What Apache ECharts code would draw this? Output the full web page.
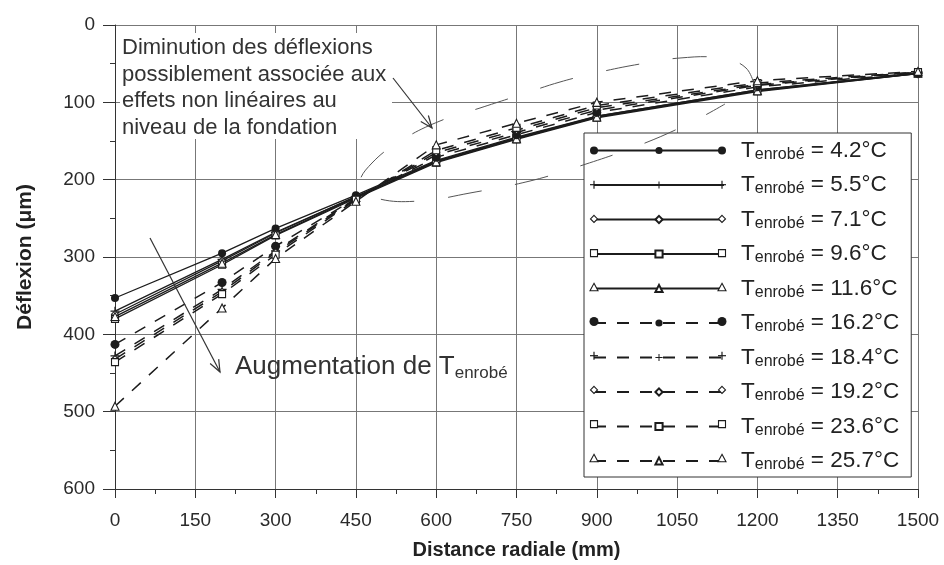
<!DOCTYPE html>
<html>
<head>
<meta charset="utf-8">
<script src="https://cdn.jsdelivr.net/npm/echarts@6/dist/echarts.min.js"></script>
<style>
html,body{margin:0;padding:0;background:#fff;}
#chart{width:944px;height:565px;}
</style>
</head>
<body>
<div id="chart"></div>
<script>
// ---- data ----
const distances = [0, 200, 300, 450, 600, 750, 900, 1200, 1500];
const temps = ['4.2', '5.5', '7.1', '9.6', '11.6', '16.2', '18.4', '19.2', '23.6', '25.7'];
const t4_2  = [353, 295, 263, 220, 175, 145, 118, 84, 63];
const t5_5  = [370, 303, 268, 222, 177, 147, 119, 85, 63];
const t7_1  = [374, 305, 269, 222, 176, 146, 118, 84, 62];
const t9_6  = [380, 310, 272, 224, 178, 148, 120, 86, 63];
const t11_6 = [377, 308, 271, 223, 177, 147, 119, 85, 62];
const t16_2 = [413, 333, 286, 224, 171, 142, 113, 80, 62];
const t18_4 = [428, 342, 292, 224, 168, 139, 110, 78, 61];
const t19_2 = [432, 345, 294, 225, 165, 136, 107, 77, 61];
const t23_6 = [436, 348, 297, 226, 162, 133, 104, 75, 61];
const t25_7 = [493, 366, 302, 228, 155, 127, 100, 72, 60];
const seriesValues = [t4_2, t5_5, t7_1, t9_6, t11_6, t16_2, t18_4, t19_2, t23_6, t25_7];
const yTicks = [0, 100, 200, 300, 400, 500, 600];
const xTicks = [0, 150, 300, 450, 600, 750, 900, 1050, 1200, 1350, 1500];

// ---- styles ----
const INK = '#1c1c1c';
const FONT = '"Liberation Sans", Arial, sans-serif';
const PLUS = 'path://M0,4.3H10V5.7H0Z M4.3,0H5.7V10H4.3Z';
const markerDefs = [
  {symbol: 'circle', kind: 'circle', size: 8, filled: true},
  {symbol: PLUS, kind: 'plus', size: 9, filled: true},
  {symbol: 'diamond', kind: 'diamond', size: 7, filled: false},
  {symbol: 'rect', kind: 'rect', size: 7, filled: false},
  {symbol: 'triangle', kind: 'triangle', size: 8, filled: false}
];

const series = seriesValues.map(function (vals, i) {
  const m = markerDefs[i % 5];
  const dashed = i >= 5;
  return {
    name: temps[i],
    type: 'line',
    data: distances.map(function (d, k) { return [d, vals[k]]; }),
    symbol: m.symbol,
    symbolSize: (i === 5 ? m.size + 1 : m.size),
    showSymbol: true,
    lineStyle: {color: INK, width: dashed ? 1.5 : 1.3, type: dashed ? [12, 11] : 'solid'},
    itemStyle: {color: m.filled ? INK : '#fff', borderColor: INK, borderWidth: m.filled ? 0 : 1.1},
    emphasis: {disabled: true},
    animation: false,
    z: 3
  };
});

function arrow(x1, y1, x2, y2) {
  const a = Math.atan2(y2 - y1, x2 - x1), L = 13, w = 0.38;
  return [
    {type: 'line', z: 120, shape: {x1: x1, y1: y1, x2: x2, y2: y2}, style: {stroke: '#333', lineWidth: 1.2}},
    {type: 'polyline', z: 120, shape: {points: [
      [x2 - L * Math.cos(a - w), y2 - L * Math.sin(a - w)], [x2, y2],
      [x2 - L * Math.cos(a + w), y2 - L * Math.sin(a + w)]]},
      style: {stroke: '#333', lineWidth: 1.2, fill: null}}
  ];
}

// extra end-markers of the legend samples (legend draws the middle one)
function legendMarker(kind, filled, cx, cy, big) {
  const st = {fill: filled ? INK : '#fff', stroke: INK, lineWidth: filled ? 0 : 1.1};
  const z = 130;
  if (kind === 'circle') return [{type: 'circle', z: z, shape: {cx: cx, cy: cy, r: big ? 4.5 : 4}, style: st}];
  if (kind === 'plus') return [
    {type: 'line', z: z, shape: {x1: cx - 4, y1: cy, x2: cx + 4, y2: cy}, style: {stroke: INK, lineWidth: 1.2}},
    {type: 'line', z: z, shape: {x1: cx, y1: cy - 4, x2: cx, y2: cy + 4}, style: {stroke: INK, lineWidth: 1.2}}];
  if (kind === 'diamond') return [{type: 'polygon', z: z, shape: {points: [[cx, cy - 3.5], [cx + 3.5, cy], [cx, cy + 3.5], [cx - 3.5, cy]]}, style: st}];
  if (kind === 'rect') return [{type: 'rect', z: z, shape: {x: cx - 3.5, y: cy - 3.5, width: 7, height: 7}, style: st}];
  return [{type: 'polygon', z: z, shape: {points: [[cx, cy - 4], [cx + 4, cy + 3.5], [cx - 4, cy + 3.5]]}, style: st}];
}
const LEG_X0 = 594, LEG_X1 = 722, LEG_Y0 = 150.5, LEG_DY = 34.2;
let legendExtras = [];
temps.forEach(function (t, i) {
  const m = markerDefs[i % 5];
  const cy = LEG_Y0 + i * LEG_DY;
  legendExtras = legendExtras
    .concat(legendMarker(m.kind, m.filled, LEG_X0, cy, i === 5))
    .concat(legendMarker(m.kind, m.filled, LEG_X1, cy, i === 5));
});

const chart = echarts.init(document.getElementById('chart'), null, {renderer: 'canvas'});
const option = {
  backgroundColor: '#fff',
  animation: false,
  textStyle: {fontFamily: FONT},
  grid: {left: 115, right: 26, top: 25, bottom: 75, containLabel: false},
  xAxis: {
    type: 'value', min: 0, max: 1500, interval: 150,
    name: 'Distance radiale (mm)', nameLocation: 'middle', nameGap: 51,
    nameTextStyle: {fontFamily: FONT, fontSize: 20, fontWeight: 'bold', color: '#222'},
    axisLine: {show: true, onZero: false, lineStyle: {color: '#333', width: 1}},
    axisTick: {show: true, length: 9, lineStyle: {color: '#333'}},
    minorTick: {show: true, splitNumber: 2, length: 5, lineStyle: {color: '#333'}},
    axisLabel: {fontFamily: FONT, fontSize: 19, color: '#2a2a2a', margin: 22,
      formatter: function (v) { return xTicks.indexOf(v) >= 0 ? String(v) : ''; }},
    splitLine: {show: true, lineStyle: {color: '#777', width: 1}}
  },
  yAxis: {
    type: 'value', min: 0, max: 600, interval: 100, inverse: true,
    name: 'Déflexion (μm)', nameLocation: 'middle', nameGap: 79,
    nameTextStyle: {fontFamily: FONT, fontSize: 21, fontWeight: 'bold', color: '#222'},
    axisLine: {show: true, onZero: false, lineStyle: {color: '#333', width: 1}},
    axisTick: {show: true, length: 12, lineStyle: {color: '#333'}},
    minorTick: {show: true, splitNumber: 2, length: 5, lineStyle: {color: '#333'}},
    axisLabel: {fontFamily: FONT, fontSize: 19, color: '#2a2a2a', margin: 20,
      formatter: function (v) { return yTicks.indexOf(v) >= 0 ? String(v) : ''; }},
    splitLine: {show: true, lineStyle: {color: '#777', width: 1}}
  },
  legend: {
    orient: 'vertical', left: 584, top: 133,
    padding: [6, 12, 4, 9], itemGap: 11, itemWidth: 130, itemHeight: 9,
    backgroundColor: '#fff', borderColor: '#333', borderWidth: 1,
    selectedMode: false,
    data: temps,
    formatter: function (name) { return '{g|}{T|T}{s|enrobé}{v| = ' + name + '°C}'; },
    textStyle: {
      fontFamily: FONT, color: '#222',
      rich: {
        g: {width: 12, lineHeight: 24},
        T: {fontFamily: FONT, fontSize: 22.5, lineHeight: 24, color: '#222'},
        s: {fontFamily: FONT, fontSize: 16, lineHeight: 12, verticalAlign: 'bottom', color: '#222'},
        v: {fontFamily: FONT, fontSize: 22.5, lineHeight: 24, color: '#222'}
      }
    }
  },
  graphic: [
    {type: 'rect', z: 100, shape: {x: 120, y: 33, width: 272, height: 106}, style: {fill: '#fff'}},
    {type: 'text', z: 110, left: 122, top: 35, style: {
      text: 'Diminution des déflexions\npossiblement associée aux\neffets non linéaires au\nniveau de la fondation',
      font: '22px ' + FONT, lineHeight: 26.5, fill: '#333'}},
    {type: 'polyline', z: 90, shape: {smooth: 0.4, points: [
      [756, 92], [746, 68], [720, 58], [680, 58], [640, 64], [600, 72], [560, 82], [520, 95],
      [480, 108], [440, 121], [402, 140], [372, 163], [360, 184], [376, 198], [420, 201],
      [470, 193], [530, 181], [580, 166], [640, 145], [690, 123], [725, 104]]},
      style: {stroke: '#555', lineWidth: 1, fill: null, lineDash: [34, 34]}},
    {type: 'text', z: 110, left: 235, top: 354, style: {
      text: '{a|Augmentation de T}{b|enrobé}',
      rich: {
        a: {fontFamily: FONT, fontSize: 26, lineHeight: 29, fill: '#333', color: '#333'},
        b: {fontFamily: FONT, fontSize: 17, lineHeight: 12, verticalAlign: 'bottom', fill: '#333', color: '#333'}
      }}}
  ].concat(arrow(393, 78, 432, 128)).concat(arrow(150, 238, 220, 372)).concat(legendExtras),
  series: series
};
chart.setOption(option);
</script>
</body>
</html>
